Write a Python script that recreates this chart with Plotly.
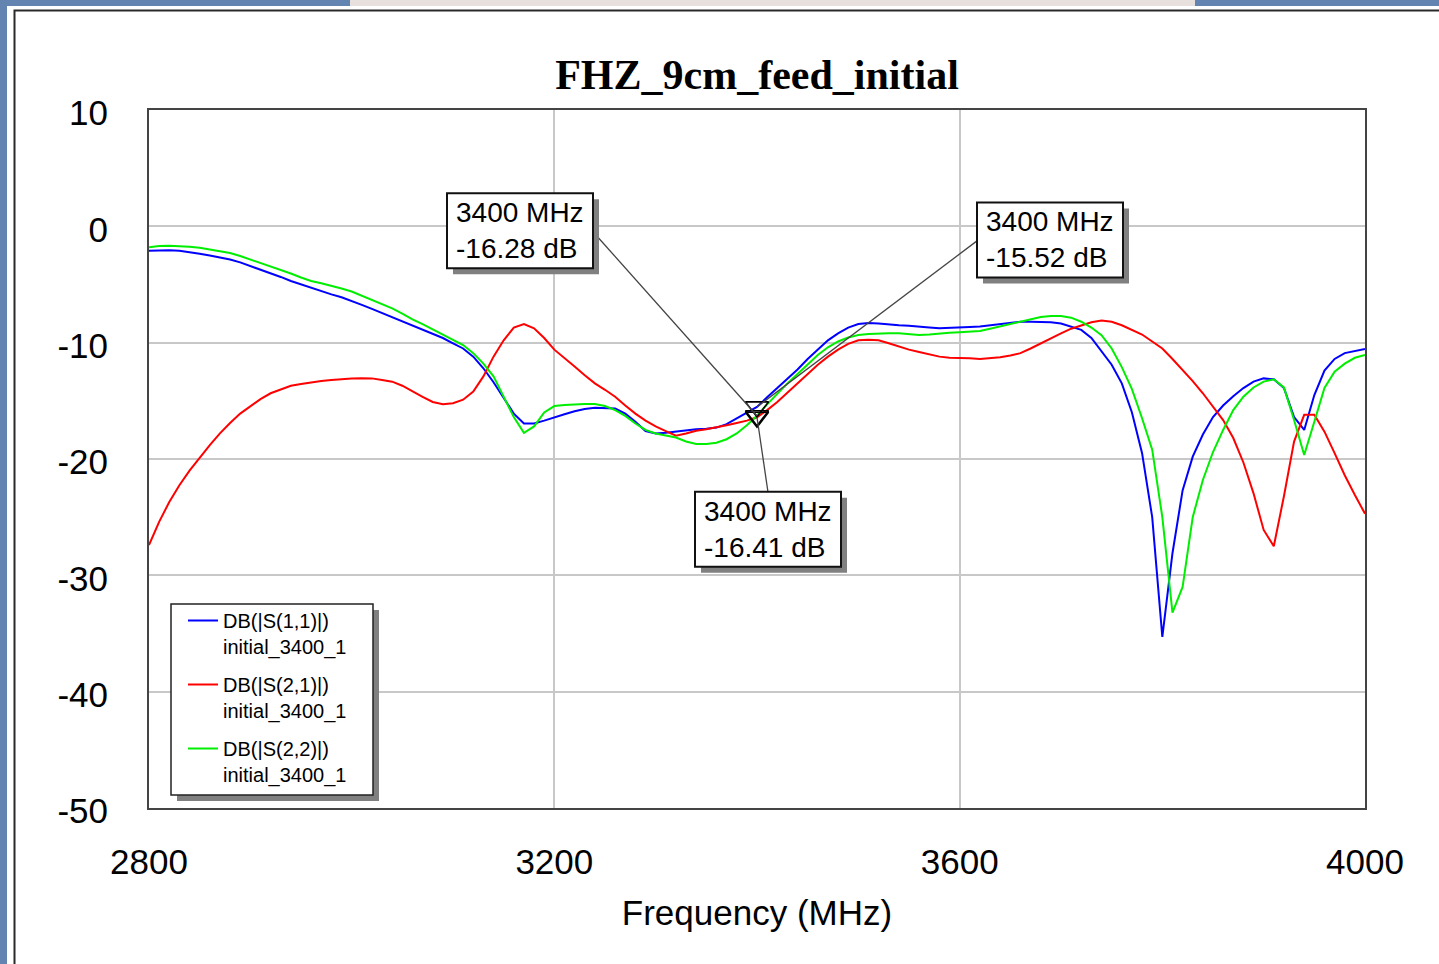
import plotly.graph_objects as go

# Sweep frequencies (MHz), 10 MHz step
freq = list(range(2800, 4001, 10))

s11_db = [
    -2.1, -2.05, -2.05, -2.1, -2.2, -2.35, -2.5, -2.65, -2.85, -3.1,
    -3.4, -3.7, -4.0, -4.35, -4.7, -5.0, -5.3, -5.55, -5.85, -6.1,
    -6.4, -6.75, -7.1, -7.45, -7.8, -8.15, -8.55, -8.9, -9.26, -9.6,
    -10.06, -10.5, -11.2, -12.2, -13.4, -14.8, -16.1, -16.95, -16.95, -16.7,
    -16.4, -16.15, -15.9, -15.7, -15.6, -15.6, -15.65, -16.1, -16.8, -17.6,
    -17.8, -17.75, -17.65, -17.5, -17.45, -17.4, -17.3, -17.0, -16.5, -16.0,
    -15.52, -14.7, -13.9, -13.1, -12.3, -11.4, -10.6, -9.8, -9.2, -8.7,
    -8.4, -8.3, -8.35, -8.45, -8.5, -8.55, -8.6, -8.7, -8.77, -8.75,
    -8.7, -8.65, -8.6, -8.5, -8.4, -8.3, -8.2, -8.2, -8.2, -8.25,
    -8.35, -8.6, -8.9, -9.6, -10.7, -11.9, -13.5, -16.0, -19.5, -25.0,
    -35.3, -28.1, -22.7, -19.8, -17.9, -16.4, -15.4, -14.6, -13.9, -13.35,
    -13.07, -13.15, -13.9, -16.4, -17.5, -14.5, -12.4, -11.4, -10.9, -10.7,
    -10.55,
]

s21_db = [
    -27.4, -25.4, -23.7, -22.25, -21.0, -19.85, -18.8, -17.8, -16.9, -16.1,
    -15.45, -14.85, -14.35, -14.0, -13.7, -13.55, -13.4, -13.3, -13.2, -13.12,
    -13.07, -13.05, -13.07, -13.2, -13.35, -13.7, -14.2, -14.65, -15.1, -15.3,
    -15.2, -14.9, -14.2, -12.9, -11.2, -9.8, -8.7, -8.4, -8.77, -9.6,
    -10.6, -11.3, -12.05, -12.8, -13.5, -14.05, -14.65, -15.4, -16.1, -16.7,
    -17.2, -17.6, -18.0, -17.8, -17.57, -17.45, -17.3, -17.1, -16.9, -16.7,
    -16.41, -15.8, -15.1, -14.3, -13.5, -12.7, -11.9, -11.2, -10.6, -10.1,
    -9.8, -9.75, -9.8, -10.05, -10.35, -10.6, -10.8, -11.0, -11.2, -11.3,
    -11.3, -11.35, -11.4, -11.35, -11.26, -11.1, -10.9, -10.5, -10.06, -9.6,
    -9.2, -8.8, -8.5, -8.25, -8.1, -8.2, -8.5, -8.9, -9.3, -9.9,
    -10.5, -11.4, -12.35, -13.3, -14.35, -15.45, -16.65, -18.2, -20.3, -22.95,
    -26.1, -27.5, -23.2, -18.5, -16.2, -16.2, -17.65, -19.5, -21.4, -23.1,
    -24.7,
]

s22_db = [
    -1.8, -1.7, -1.67, -1.68, -1.75, -1.85, -2.0, -2.15, -2.3, -2.55,
    -2.85, -3.1, -3.4, -3.7, -4.05, -4.4, -4.7, -4.9, -5.1, -5.35,
    -5.6, -5.95, -6.3, -6.65, -7.05, -7.5, -8.0, -8.4, -8.85, -9.25,
    -9.7, -10.2, -10.9, -11.8, -12.9, -14.6, -16.4, -17.75, -17.2, -16.0,
    -15.45, -15.35, -15.3, -15.28, -15.28, -15.45, -15.8, -16.3, -16.95, -17.5,
    -17.8, -17.95, -18.15, -18.5, -18.7, -18.7, -18.6, -18.3, -17.8, -17.1,
    -16.28, -15.3, -14.4, -13.5, -12.7, -11.9, -11.06, -10.4, -9.9, -9.55,
    -9.35, -9.25, -9.2, -9.2, -9.2, -9.25, -9.35, -9.3, -9.2, -9.15,
    -9.1, -9.05, -9.0, -8.8, -8.6, -8.4, -8.2, -8.0, -7.8, -7.7,
    -7.7, -7.85, -8.2, -8.7, -9.35, -10.5, -12.1, -14.0, -16.5, -19.2,
    -25.0, -33.2, -31.0, -25.0, -21.8, -19.4, -17.5, -15.8, -14.65, -13.85,
    -13.35, -13.15, -13.85, -16.65, -19.66, -16.8, -13.9, -12.5, -11.8, -11.3,
    -11.06,
]

series_names = ["DB(|S(1,1)|)", "DB(|S(2,1)|)", "DB(|S(2,2)|)"]
doc_name = "initial_3400_1"
series_colors = ["#0000ff", "#ff0000", "#00ee00"]

x_ticks = [2800, 3200, 3600, 4000]
y_ticks = [10, 0, -10, -20, -30, -40, -50]
y_tick_text = ["10", "0", "-10", "-20", "-30", "-40", "-50"]

marker_freq = 3400

# Page geometry (pixels)
W, H = 1439, 964
L, R, T, B = 149, 1365, 110, 808
SANS = "Liberation Sans, Arial"
BOX_W, BOX_H, SHADOW = 146, 75, 6


def px_x(p):
    return (p - L) / (R - L)


def px_y(p):
    return (B - p) / (B - T)


def paper_rect(x0, y0, x1, y1, **kw):
    return dict(type="rect", xref="paper", yref="paper",
                x0=px_x(x0), x1=px_x(x1), y0=px_y(y1), y1=px_y(y0), **kw)


def anchored(kind, fx, fy, dx0, dy0, dx1, dy1, **kw):
    # shape placed by pixel offsets (screen y downwards) from a data point
    return dict(type=kind, xref="x", yref="y", xsizemode="pixel", ysizemode="pixel",
                xanchor=fx, yanchor=fy, x0=dx0, x1=dx1, y0=-dy0, y1=-dy1,
                layer="above", **kw)


fig = go.Figure()

all_series = [s11_db, s21_db, s22_db]
for name, vals, col, grp in zip(series_names, all_series, series_colors, ["a", "b", "c"]):
    fig.add_trace(go.Scatter(
        x=freq, y=vals, mode="lines", name=f"{name}<br>{doc_name}",
        line=dict(color=col, width=2), legendgroup=grp,
    ))

# Marker readouts at the marker frequency
idx = freq.index(marker_freq)
mk_vals = [s11_db[idx], s22_db[idx], s21_db[idx]]
fig.add_trace(go.Scatter(
    x=[marker_freq] * 3, y=mk_vals, mode="markers", showlegend=False,
    marker=dict(symbol="triangle-down-open", size=20, color="#000000",
                line=dict(width=1.6, color="#000000")),
    hoverinfo="skip",
))

# Readout placement: (value, box centre offset, leader tail offset) in pixels
readouts = [
    (s22_db[idx], (-237, -185), (-164, -184)),
    (s11_db[idx], (293, -167), (220, -166)),
    (s21_db[idx], (11, 112), (11, 75)),
]

shapes = [
    # window panel
    paper_rect(7, 6, W + 20, H + 20, layer="below", fillcolor="#ffffff", line=dict(width=0)),
    paper_rect(350, -5, 1195, 6, layer="below", fillcolor="#e8e0dc", line=dict(width=0)),
    paper_rect(14.5, 10.5, W + 20, H + 20, layer="below",
               fillcolor="rgba(0,0,0,0)", line=dict(width=2, color="#2a2a2a")),
    # legend frame with drop shadow
    paper_rect(177, 610, 379, 801, layer="above", fillcolor="#808080", line=dict(width=0)),
    paper_rect(171, 604, 373, 795, layer="above", fillcolor="#ffffff",
               line=dict(width=1.5, color="#222222")),
]

annotations = []
for val, (bx, by), (lx, ly) in readouts:
    shapes.append(anchored("line", marker_freq, val, 0, 0, lx, ly,
                           line=dict(color="#444444", width=1.3)))
    hw, hh = BOX_W / 2, BOX_H / 2
    shapes.append(anchored("rect", marker_freq, val,
                           bx - hw + SHADOW, by - hh + SHADOW, bx + hw + SHADOW, by + hh + SHADOW,
                           fillcolor="#808080", line=dict(width=0)))
    shapes.append(anchored("rect", marker_freq, val, bx - hw, by - hh, bx + hw, by + hh,
                           fillcolor="#ffffff", line=dict(width=2, color="#111111")))
    annotations.append(dict(
        x=marker_freq, y=val, xref="x", yref="y",
        text=f"{marker_freq} MHz<br>{val:.2f} dB",
        showarrow=True, arrowcolor="rgba(0,0,0,0)", axref="pixel", ayref="pixel",
        ax=bx, ay=by, align="left", borderpad=0, borderwidth=0,
        font=dict(family=SANS, size=28, color="#000000"),
    ))

fig.update_layout(
    width=W, height=H,
    margin=dict(l=L, r=W - R, t=T, b=H - B, pad=0),
    paper_bgcolor="#6383b1", plot_bgcolor="#ffffff",
    title=dict(text="<b>FHZ_9cm_feed_initial</b>", x=757 / W,
               xanchor="center", y=1 - 74 / H, yanchor="middle", yref="container",
               font=dict(family="Liberation Serif, Times New Roman", size=42, color="#000000")),
    showlegend=True,
    legend=dict(x=px_x(183), y=px_y(601), xanchor="left", yanchor="top",
                bgcolor="rgba(0,0,0,0)", borderwidth=0,
                font=dict(family=SANS, size=20, color="#000000"),
                traceorder="grouped", tracegroupgap=9, valign="top"),
    shapes=shapes,
    annotations=annotations,
    xaxis=dict(range=[2800, 4000], tickvals=x_ticks, showgrid=True,
               gridcolor="#c8c8c8", gridwidth=1.5, zeroline=False,
               showline=True, mirror=True, linecolor="#444444", linewidth=2,
               ticks="", ticklabelstandoff=22,
               tickfont=dict(family=SANS, size=35, color="#000000"),
               title=dict(text="Frequency (MHz)", standoff=20,
                          font=dict(family=SANS, size=35, color="#000000"))),
    yaxis=dict(range=[-50, 10], tickvals=y_ticks, ticktext=y_tick_text, showgrid=True,
               gridcolor="#c8c8c8", gridwidth=1.5, zeroline=False,
               showline=True, mirror=True, linecolor="#444444", linewidth=2,
               ticks="", ticklabelstandoff=32, ticklabelshift=3,
               tickfont=dict(family=SANS, size=35, color="#000000")),
)

fig.write_html("out.html")
